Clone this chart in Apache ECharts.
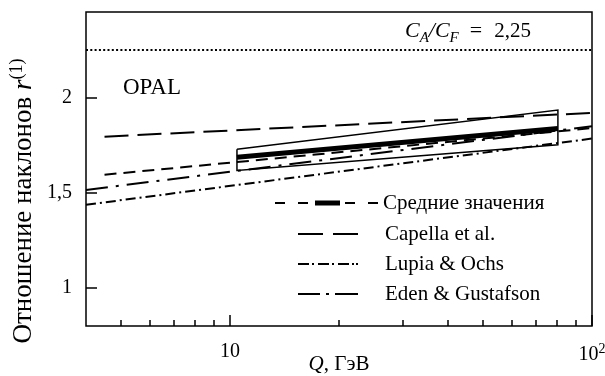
<!DOCTYPE html>
<html>
<head>
<meta charset="utf-8">
<script src="https://cdn.jsdelivr.net/npm/echarts@6/dist/echarts.min.js"></script>
<style>
  html, body { margin: 0; padding: 0; background: #fff; }
  #chart { width: 605px; height: 376px; }
</style>
</head>
<body>
<div id="chart"></div>
<script>
const SERIF = '"Liberation Serif", "Times New Roman", serif';

// Axis ranges and ticks
const qRange = [4, 100];
const rRange = [0.8, 2.45];
const xMajorTicks = [10, 100];
const xMinorTicks = [5, 6, 7, 8, 9, 20, 30, 40, 50, 60, 70, 80, 90];
const yTicks = [1, 1.5, 2];

// Asymptotic value C_A / C_F
const caOverCf = 2.25;

// Average slope ratio: extrapolated line and the fitted segment over the data range
const meanQ = [4.5, 100];
const meanR = [1.595, 1.84];
const meanFitQ = [10.45, 80.5];
const meanFitR = [1.687, 1.838];

// Error band around the average (closed outline)
const bandQ = [10.45, 80.5, 80.5, 10.45, 10.45];
const bandR = [1.729, 1.935, 1.752, 1.617, 1.729];

// Model predictions
const capellaQ = [4.5, 100];
const capellaR = [1.795, 1.92];
const lupiaQ = [4, 100];
const lupiaR = [1.437, 1.785];
const edenQ = [4, 100];
const edenR = [1.515, 1.85];

const pairs = (q, r) => q.map((v, i) => [v, r[i]]);

function lineSeries(name, q, r, style, z) {
  return {
    type: 'line',
    name: name,
    data: pairs(q, r),
    symbol: 'none',
    showSymbol: false,
    silent: true,
    animation: false,
    z: z || 2,
    itemStyle: { color: '#000' },
    lineStyle: Object.assign({ color: '#000', width: 2, cap: 'butt' }, style)
  };
}

const chart = echarts.init(document.getElementById('chart'), null, { renderer: 'canvas' });

const legendText = { color: '#000', fontFamily: SERIF, fontSize: 21, lineHeight: 22 };

chart.setOption({
  backgroundColor: '#fff',
  animation: false,
  grid: {
    left: 86, right: 13, top: 12, bottom: 50,
    outerBoundsMode: 'none', containLabel: false,
    show: true, borderColor: '#000', borderWidth: 1.5, backgroundColor: 'transparent'
  },
  xAxis: [
    {
      type: 'log', logBase: 10, min: qRange[0], max: qRange[1],
      axisLine: { show: false },
      splitLine: { show: false },
      axisTick: { show: true, inside: true, length: 11, customValues: xMajorTicks,
                  lineStyle: { color: '#000', width: 1.5 } },
      axisLabel: {
        customValues: xMajorTicks, margin: 16, color: '#000',
        fontFamily: SERIF, fontSize: 20,
        formatter: v => v >= 100 ? '{b|10}{s|2}' : '{b|' + v + '}',
        rich: {
          b: { fontFamily: SERIF, fontSize: 20, color: '#000', verticalAlign: 'bottom' },
          s: { fontFamily: SERIF, fontSize: 14, color: '#000', padding: [0, 0, 9, 0], verticalAlign: 'bottom' }
        }
      },
      name: '{i|Q}{t|, ГэВ}',
      nameLocation: 'middle',
      nameGap: 28,
      nameMoveOverlap: false,
      nameTextStyle: {
        rich: {
          i: { fontFamily: SERIF, fontSize: 21, fontStyle: 'italic', color: '#000' },
          t: { fontFamily: SERIF, fontSize: 21, color: '#000' }
        }
      }
    },
    {
      type: 'log', logBase: 10, min: qRange[0], max: qRange[1], gridIndex: 0, position: 'bottom',
      axisLine: { show: false },
      splitLine: { show: false },
      axisLabel: { show: false },
      axisTick: { show: true, inside: true, length: 6, customValues: xMinorTicks,
                  lineStyle: { color: '#000', width: 1.5 } }
    }
  ],
  yAxis: {
    type: 'value', min: rRange[0], max: rRange[1],
    axisLine: { show: false },
    splitLine: { show: false },
    axisTick: { show: true, inside: true, length: 11, customValues: yTicks,
                lineStyle: { color: '#000', width: 1.5 } },
    axisLabel: {
      customValues: yTicks, margin: 14, color: '#000', fontFamily: SERIF, fontSize: 20,
      formatter: v => String(v).replace('.', ',')
    }
  },
  legend: [
    {
      data: [{ name: 'Средние значения',
               icon: 'path://M0,1.5h10v2h-10z M23,1.5h10v2h-10z M40,0h25v5h-25z M70,1.5h10v2h-10z M93,1.5h10v2h-10z' }],
      left: 275, top: 192, padding: 0, orient: 'vertical',
      itemWidth: 103, itemHeight: 5, itemGap: 8,
      textStyle: legendText, selectedMode: false
    },
    {
      data: [
        { name: 'Capella et al.', icon: 'path://M0,0h25v2h-25z M35,0h25v2h-25z' },
        { name: 'Lupia & Ochs',
          icon: 'path://M0,0h11v2h-11z M14,0h2v2h-2z M20,0h11v2h-11z M34,0h2v2h-2z M40,0h11v2h-11z M54,0h2v2h-2z M58,0h2v2h-2z' },
        { name: 'Eden & Gustafson', icon: 'path://M0,0h22v2h-22z M28,0h3v2h-3z M37,0h23v2h-23z' }
      ],
      left: 298, top: 223, padding: 0, orient: 'vertical',
      itemWidth: 60, itemHeight: 2, itemGap: 8,
      textStyle: Object.assign({ padding: [0, 0, 0, 22] }, legendText), selectedMode: false
    }
  ],
  series: [
    lineSeries('CA/CF', qRange, [caOverCf, caOverCf], { width: 2, type: [2, 2.3] }),
    lineSeries('Capella et al.', capellaQ, capellaR, { type: [24, 9] }),
    lineSeries('Lupia & Ochs', lupiaQ, lupiaR, { type: [10, 4, 2, 4] }),
    lineSeries('Eden & Gustafson', edenQ, edenR, { type: [22, 8, 3, 8] }),
    lineSeries('Средние значения', meanQ, meanR, { type: [12, 7] }),
    lineSeries('band', bandQ, bandR, { width: 1.5, type: 'solid', join: 'miter' }, 3),
    lineSeries('mean fit', meanFitQ, meanFitR, { width: 5, type: 'solid' }, 4)
  ],
  graphic: [
    {
      type: 'text', left: 123, top: 76, silent: true,
      style: { text: 'OPAL', font: '23px ' + SERIF, fill: '#000' }
    },
    {
      type: 'text', left: 405, top: 20, silent: true,
      style: {
        text: '{c|C}{sub|A}{c|/}{c|C}{sub|F}{eq|=}{n|2,25}',
        fill: '#000',
        rich: {
          c: { fontFamily: SERIF, fontSize: 22, fontStyle: 'italic', padding: [0, 0, 4, 0], verticalAlign: 'bottom' },
          sub: { fontFamily: SERIF, fontSize: 15, fontStyle: 'italic', verticalAlign: 'bottom' },
          eq: { fontFamily: SERIF, fontSize: 22, padding: [0, 12, 4, 11], verticalAlign: 'bottom' },
          n: { fontFamily: SERIF, fontSize: 21, padding: [0, 0, 4, 0], verticalAlign: 'bottom' }
        }
      }
    },
    {
      type: 'text', x: 23, y: 201, rotation: Math.PI / 2, silent: true,
      style: {
        text: '{t|Отношение наклонов }{i|r}{s|(1)}',
        align: 'center', verticalAlign: 'middle', fill: '#000',
        rich: {
          t: { fontFamily: SERIF, fontSize: 27, verticalAlign: 'bottom' },
          i: { fontFamily: SERIF, fontSize: 27, fontStyle: 'italic', verticalAlign: 'bottom' },
          s: { fontFamily: SERIF, fontSize: 18, padding: [0, 0, 11, 0], verticalAlign: 'bottom' }
        }
      }
    }
  ]
});
</script>
</body>
</html>
